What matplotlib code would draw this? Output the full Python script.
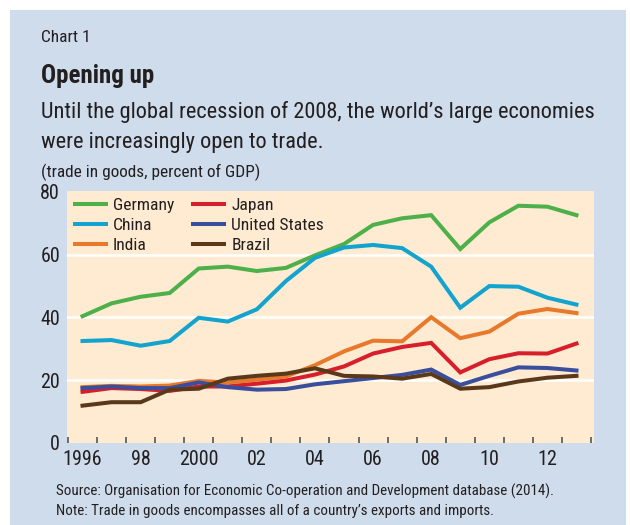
"""Chart 1: Opening up -- trade in goods as percent of GDP."""
import matplotlib
matplotlib.use("Agg")
import matplotlib.pyplot as plt
from matplotlib.patches import Rectangle

# ---- data ----
years = list(range(1996, 2014))
year_labels = ['1996', '98', '2000', '02', '04', '06', '08', '10', '12']

germany = [40.4, 44.5, 46.6, 47.8, 55.6, 56.2, 54.8, 55.8, 59.8, 63.4,
           69.5, 71.6, 72.6, 61.8, 70.3, 75.6, 75.3, 72.6]
china = [32.5, 32.8, 31.0, 32.5, 39.9, 38.7, 42.6, 51.6, 59.0, 62.3,
         63.1, 62.1, 56.2, 43.1, 50.0, 49.8, 46.3, 44.1]
india = [17.8, 18.2, 18.0, 18.3, 19.8, 19.3, 20.2, 21.2, 24.8, 29.2,
         32.6, 32.4, 40.1, 33.4, 35.5, 41.2, 42.7, 41.4]
japan = [16.3, 17.5, 17.2, 16.6, 18.0, 18.0, 18.9, 19.9, 21.8, 24.4,
         28.5, 30.6, 31.9, 22.5, 26.7, 28.6, 28.5, 31.7]
united_states = [17.5, 18.0, 17.5, 17.5, 19.3, 17.8, 17.0, 17.2, 18.7, 19.7,
                 20.7, 21.7, 23.4, 18.5, 21.4, 24.1, 23.9, 23.1]
brazil = [11.9, 13.0, 13.0, 17.0, 17.3, 20.5, 21.4, 22.1, 23.8, 21.4,
          21.2, 20.5, 22.0, 17.3, 17.8, 19.6, 20.8, 21.4]

series = [
    ('Germany', germany, '#4DB04A'),
    ('China', china, '#12A3CE'),
    ('India', india, '#E8782A'),
    ('Japan', japan, '#D71F2B'),
    ('United States', united_states, '#3A4E9E'),
    ('Brazil', brazil, '#59391A'),
]

W, H = 630, 525
BOX_BLUE = '#CEDCEB'
PLOT_BG = '#FEEBD1'
TXT = '#231F20'

plt.rcParams['font.family'] = ['Roboto Condensed', 'Liberation Sans Narrow',
                               'DejaVu Sans Condensed', 'Roboto', 'DejaVu Sans']
plt.rcParams['font.stretch'] = 'condensed'


def fx(x):
    return x / W


def fy(y):
    return 1 - y / H


def main():
    fig = plt.figure(figsize=(6.3, 5.25), dpi=100)
    fig.patch.set_facecolor('white')
    fig.patches.append(Rectangle((fx(10), 0), fx(616), 1 - 10 / H,
                                 transform=fig.transFigure, facecolor=BOX_BLUE,
                                 edgecolor='none', zorder=-5))

    # ---- header text ----
    fig.text(fx(41), fy(38), 'Chart 1', fontsize=12.5, color=TXT, va='center')
    fig.text(fx(41), fy(83), 'Opening up', fontsize=18, fontweight='bold',
             color=TXT, va='baseline')
    fig.text(fx(41), fy(118),
             'Until the global recession of 2008, the world\u2019s large economies',
             fontsize=16.1, color=TXT, va='baseline')
    fig.text(fx(41), fy(148), 'were increasingly open to trade.',
             fontsize=16.1, color=TXT, va='baseline')
    fig.text(fx(41), fy(172), '(trade in goods, percent of GDP)',
             fontsize=12.4, color=TXT, va='center')

    # ---- plot ----
    ax = fig.add_axes([fx(67), fy(443), (594 - 67) / W, (443 - 191) / H])
    ax.set_facecolor(PLOT_BG)
    for s in ax.spines.values():
        s.set_visible(False)

    x = list(range(len(years)))
    for name, vals, col in series:
        ax.plot(x, vals, color=col, linewidth=2.9, label=name,
                solid_joinstyle='miter', zorder=3)

    for g in [20, 40, 60]:
        ax.axhline(g, color='white', linewidth=1.8, zorder=1)

    ax.set_xlim(-0.534, 17.603)
    ax.set_ylim(0, 80.3)
    ax.set_yticks([0, 20, 40, 60, 80])
    ax.set_yticklabels(['0', '20', '40', '60', '80'])
    ax.tick_params(axis='y', length=0, pad=5, labelsize=14.5, labelcolor=TXT)

    # tick marks at year boundaries, labels centred on every other year
    ax.set_xticks([i - 0.5 for i in range(len(years) + 1)])
    ax.set_xticklabels([])
    ax.tick_params(axis='x', which='major', direction='in', length=4.5,
                   width=1.2, color='#555555')
    ax.set_xticks(list(range(0, len(years), 2)), minor=True)
    ax.set_xticklabels(year_labels, minor=True)
    ax.tick_params(axis='x', which='minor', length=0, pad=5, labelsize=14.5,
                   labelcolor=TXT)

    leg = ax.legend(ncol=2, loc='upper left',
                    bbox_to_anchor=((75 - 67) / 527, 0.974),
                    frameon=False, fontsize=12.6, handlelength=1.75,
                    handletextpad=0.42, columnspacing=1.1, labelspacing=0.28,
                    borderaxespad=0, borderpad=0)
    for t in leg.get_texts():
        t.set_color(TXT)

    # ---- footer ----
    fig.text(fx(56), fy(491),
             'Source: Organisation for Economic Co-operation and Development database (2014).',
             fontsize=10.8, color=TXT, va='center')
    fig.text(fx(56), fy(511),
             'Note: Trade in goods encompasses all of a country\u2019s exports and imports.',
             fontsize=10.8, color=TXT, va='center')

    fig.savefig('out.png', dpi=100, facecolor=fig.get_facecolor())
    plt.close(fig)


if __name__ == "__main__":
    main()
